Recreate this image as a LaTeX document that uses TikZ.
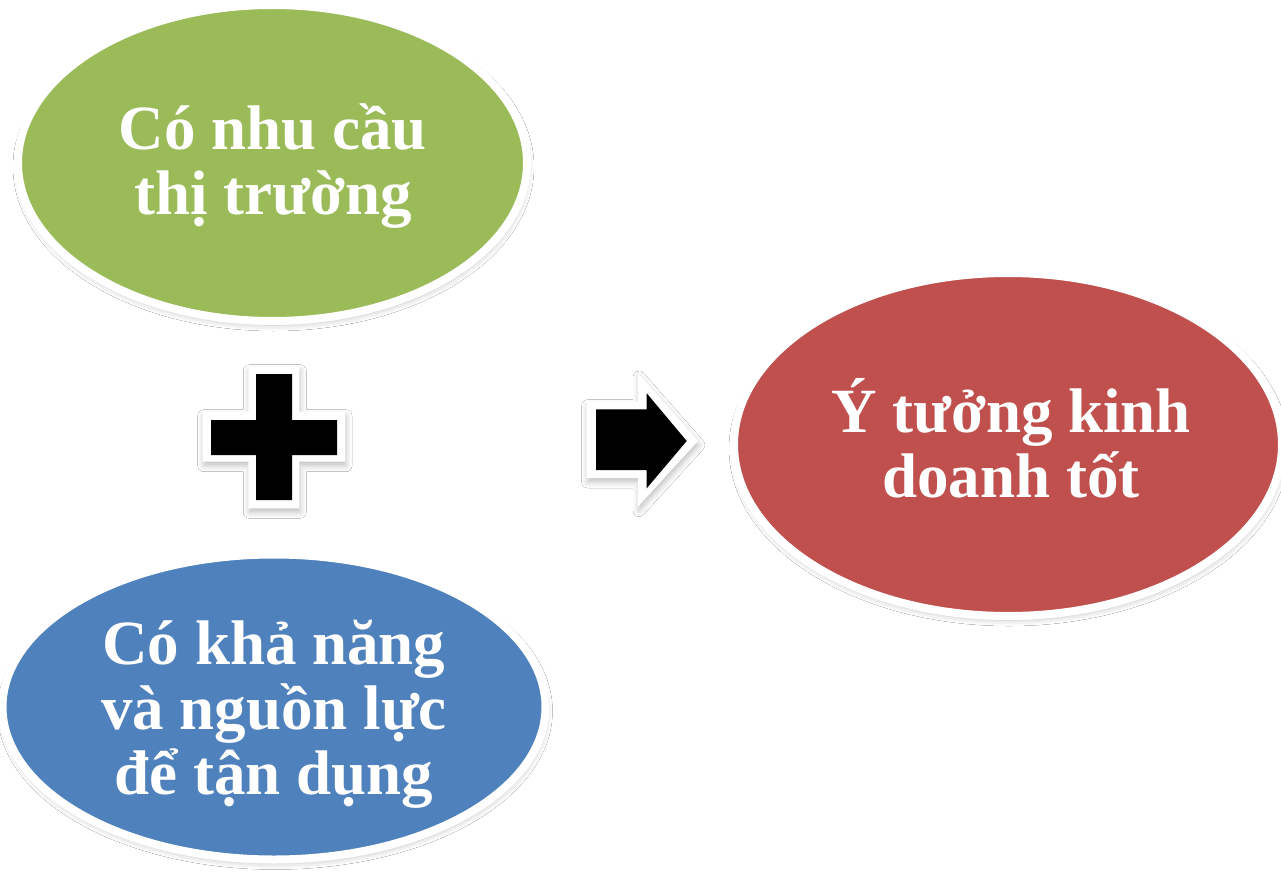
\documentclass[tikz,border=0pt]{standalone}
\usepackage{fontspec}
\setmainfont{Liberation Serif}
\usetikzlibrary{shapes.geometric,shadows.blur}

\definecolor{ideagreen}{HTML}{9BBB59}
\definecolor{ideablue}{HTML}{4F81BD}
\definecolor{ideared}{HTML}{C0504D}

\tikzset{
  softshadow/.style={blur shadow={shadow xshift=1pt, shadow yshift=-4pt,
      shadow blur radius=6pt, shadow opacity=25}},
  bubble/.style={ellipse, draw=white, line width=8pt, inner sep=0pt, softshadow},
  bubbletext/.style={text=white, align=center, inner sep=0pt,
      font=\fontsize{63}{65}\selectfont\bfseries},
  symbolback/.style={fill=white, softshadow},
  symbolfill/.style={fill=black}
}

\begin{document}
\begin{tikzpicture}[x=1pt, y=-1pt]
  \useasboundingbox[fill=white] (0,0) rectangle (1281,874);

  % the three ideas
  \node[bubble, fill=ideagreen, minimum width=509pt, minimum height=316pt]
    (market) at (272.5,163) {};
  \node[bubbletext] (market-text) at (273,166) {Có nhu cầu\\thị trường};

  \node[bubble, fill=ideablue, minimum width=543pt, minimum height=305pt]
    (ability) at (274,707) {};
  \node[bubbletext] (ability-text) at (274,714) {Có khả năng\\và nguồn lực\\để tận dụng};

  \node[bubble, fill=ideared, minimum width=548pt, minimum height=343pt]
    (idea) at (1008,444.5) {};
  \node[bubbletext] (idea-text) at (1011,438.5) {Ý tưởng kinh\\doanh tốt};

  % plus sign: white rim, then black cross
  \path[symbolback] (248.3,366.7) -- (299.3,366.7) -- (299.3,411.7) -- (345,411.7)
    -- (345,461.7) -- (299.3,461.7) -- (299.3,508.3) -- (248.3,508.3)
    -- (248.3,461.7) -- (202.7,461.7) -- (202.7,411.7) -- (248.3,411.7) -- cycle;
  \path[symbolfill] (256,374) -- (292,374) -- (292,420) -- (337,420)
    -- (337,455) -- (292,455) -- (292,500) -- (256,500)
    -- (256,455) -- (211,455) -- (211,420) -- (256,420) -- cycle;

  % block arrow: white rim, then black arrow
  \path[symbolback] (586.7,401.7) -- (638,401.7) -- (638,373) -- (698,441)
    -- (638,506.7) -- (638,478) -- (586.7,478) -- cycle;
  \path[symbolfill] (596,409.3) -- (646.7,409.3) -- (646.7,393.3) -- (686.7,441)
    -- (646.7,488.3) -- (646.7,470) -- (596,470) -- cycle;
\end{tikzpicture}
\end{document}
